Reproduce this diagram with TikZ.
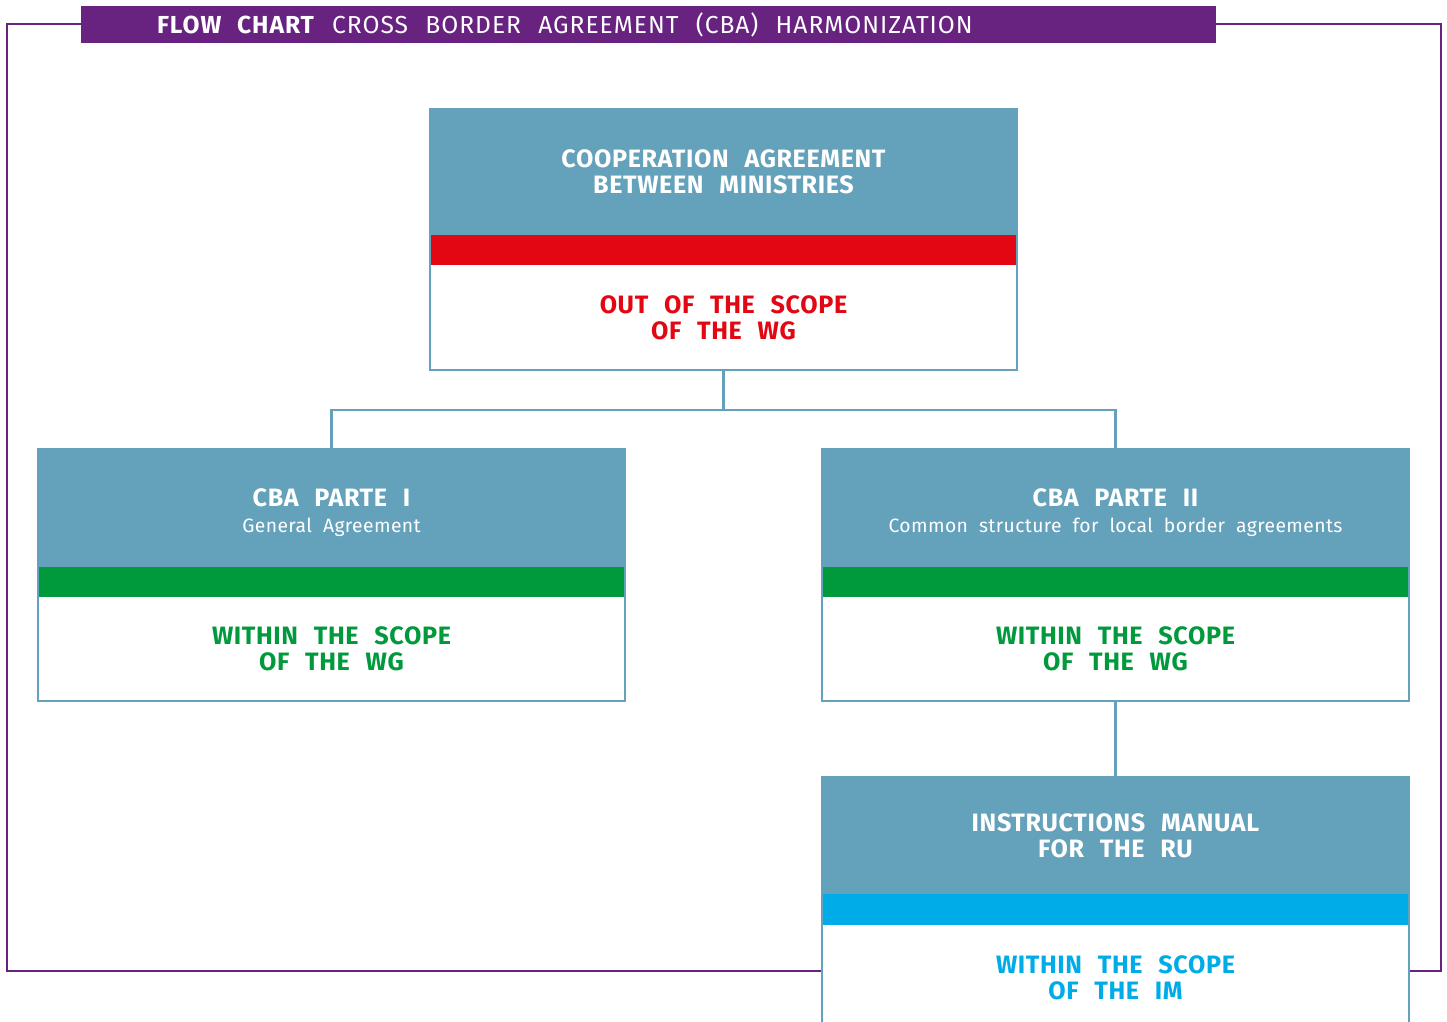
\documentclass[tikz,border=0pt]{standalone}
\usepackage{fontspec}
\setmainfont{Fira Sans}
\newfontfamily\boxfont{Fira Sans}[LetterSpace=2.5, WordSpace=2.4]
\newfontfamily\subfont{Fira Sans}[LetterSpace=2, WordSpace=2.0]
\newfontfamily\titlefont{Fira Sans}[LetterSpace=4, WordSpace=2.3]
\usetikzlibrary{positioning}
\definecolor{framepurple}{RGB}{104,34,128}
\definecolor{boxblue}{RGB}{100,161,187}
\definecolor{outred}{RGB}{227,6,19}
\definecolor{ingreen}{RGB}{0,154,61}
\definecolor{imcyan}{RGB}{0,172,232}

\begin{document}
\begin{tikzpicture}[inner sep=0pt, outer sep=0pt,
  head/.style={fill=boxblue, text=white, minimum width=11.74cm, align=center, font=\boxfont\fontsize{14.3}{14.8}\selectfont\bfseries},
  stripe/.style={fill=#1, minimum width=11.74cm, minimum height=0.6cm},
  scopebox/.style={fill=white, text=#1, minimum width=11.74cm, align=center, font=\boxfont\fontsize{14.3}{14.8}\selectfont\bfseries},
  outline/.style={draw=boxblue, line width=1.5pt},
  link/.style={draw=boxblue, line width=1.4pt}]
	\useasboundingbox (0,0) rectangle (28.94,-20.44);
	\clip (0,0) rectangle (28.94,-20.44);
	\draw[framepurple, line width=1.5pt] (0.14,-0.48) rectangle (28.82,-19.42);
	\node (titlebar) [fill=framepurple, minimum width=22.7cm, minimum height=0.74cm] at (12.97,-0.49) {};
	\node (title) [anchor=west, text=white, font=\titlefont\fontsize{14}{14}\selectfont] at (3.14,-0.49) {\textbf{FLOW CHART} CROSS BORDER AGREEMENT (CBA) HARMONIZATION};
	% top box
	\node (coop) [head, minimum height=2.52cm] at (14.47,-3.44) {COOPERATION AGREEMENT\\BETWEEN MINISTRIES};
	\node (coopbar) [stripe=outred, below=0pt of coop] {};
	\node (coopscope) [scopebox=outred, minimum height=2.1cm, below=0pt of coopbar] {OUT OF THE SCOPE\\OF THE WG};
	\draw[outline] (coop.north west) rectangle (coopscope.south east);
	% second row
	\node (parte1) [head, minimum height=2.36cm] at (6.63,-10.16) {\rule{0pt}{15pt}CBA PARTE I\\[0pt]{\subfont\mdseries\fontsize{11}{13}\selectfont General Agreement}};
	\node (parte1bar) [stripe=ingreen, below=0pt of parte1] {};
	\node (parte1scope) [scopebox=ingreen, minimum height=2.08cm, below=0pt of parte1bar] {WITHIN THE SCOPE\\OF THE WG};
	\draw[outline] (parte1.north west) rectangle (parte1scope.south east);
	\node (parte2) [head, minimum height=2.36cm] at (22.31,-10.16) {\rule{0pt}{15pt}CBA PARTE II\\[0pt]{\subfont\mdseries\fontsize{11}{13}\selectfont Common structure for local border agreements}};
	\node (parte2bar) [stripe=ingreen, below=0pt of parte2] {};
	\node (parte2scope) [scopebox=ingreen, minimum height=2.08cm, below=0pt of parte2bar] {WITHIN THE SCOPE\\OF THE WG};
	\draw[outline] (parte2.north west) rectangle (parte2scope.south east);
	% manual
	\node (manual) [head, minimum height=2.34cm] at (22.31,-16.71) {INSTRUCTIONS MANUAL\\FOR THE RU};
	\node (manualbar) [stripe=imcyan, minimum height=0.62cm, below=0pt of manual] {};
	\node (manualscope) [scopebox=imcyan, minimum height=2.5cm, below=0pt of manualbar] {};
	\node (manualtext) [text=imcyan, align=center, font=\boxfont\fontsize{14.3}{14.8}\selectfont\bfseries] at (22.31,-19.55) {WITHIN THE SCOPE\\OF THE IM};
	\draw[outline] (manual.north west) rectangle (manualscope.south east);
	% links
	\draw[link] (coopscope.south) -- ++(0,-0.8) -| (parte1.north);
	\draw[link] (coopscope.south) -- ++(0,-0.8) -| (parte2.north);
	\draw[link] (parte2scope.south) -- (manual.north);
\end{tikzpicture}
\end{document}
